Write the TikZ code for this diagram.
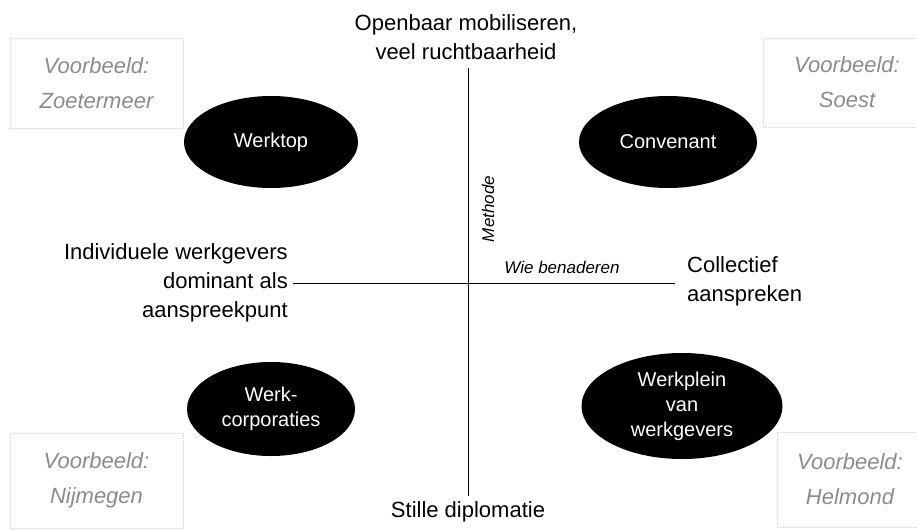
\documentclass[tikz,border=0pt]{standalone}
\usepackage{fontspec}
\setmainfont{Liberation Sans}
\usetikzlibrary{shapes}
\definecolor{voorbeeldgrey}{RGB}{138,138,150}

\begin{document}
\begin{tikzpicture}[x=1pt, y=-1pt, inner sep=0pt,
        every ellipse node/.append style={fill=black, text=white}]
      \tikzstyle{axislabel} = [font=\fontsize{22}{29}\selectfont]
      \tikzstyle{kwadrant} = [ellipse, font=\fontsize{20}{25}\selectfont, align=center]
      \tikzstyle{voorbeeld} = [draw=gray!30, densely dotted, line width=0.6pt,
        font=\fontsize{22}{35}\selectfont\itshape, text=voorbeeldgrey, align=center]
      \tikzstyle{as} = [font=\fontsize{17}{20}\selectfont\itshape]
      \clip (0,0) rectangle (917,530);
      % assen
      \node (Openbaar) [axislabel, align=center] at (466,37) {Openbaar mobiliseren,\\veel ruchtbaarheid};
      \node (Stille) [axislabel] at (468,512) {Stille diplomatie};
      \node (Individueel) [axislabel, align=right, anchor=east] at (288,283)
        {Individuele werkgevers\\dominant als\\aanspreekpunt};
      \node (Collectief) [axislabel, align=left, anchor=west] at (687,281) {Collectief\\aanspreken};
      \coordinate (MethodeBoven) at (468,68);
      \coordinate (MethodeOnder) at (468,496);
      \coordinate (WieEinde) at (675,283);
      \draw[line width=0.9pt] (MethodeBoven) -- (MethodeOnder);
      \draw[line width=0.9pt] ([xshift=5pt]Individueel.east) -- (WieEinde);
      \node (Methode) [as, rotate=90] at (488,209) {Methode};
      \node (Wie) [as] at (562,267) {Wie benaderen};
      % kwadranten
      \node (Werktop) [kwadrant, minimum width=174, minimum height=92] at (271,142) {Werktop};
      \node (Convenant) [kwadrant, minimum width=178, minimum height=92] at (668,142) {Convenant};
      \node (Werkcorporaties) [kwadrant, minimum width=168, minimum height=94] at (271,409) {Werk-\\corporaties};
      \node (Werkplein) [kwadrant, minimum width=201, minimum height=106] at (682,406)
        {Werkplein\\van\\werkgevers};
      % voorbeelden
      \node (Zoetermeer) [voorbeeld, minimum width=173, minimum height=90] at (96.5,83) {Voorbeeld:\\Zoetermeer};
      \node (Soest) [voorbeeld, minimum width=168, minimum height=89] at (847,82.5) {Voorbeeld:\\Soest};
      \node (Nijmegen) [voorbeeld, minimum width=173, minimum height=95] at (96.5,480.5) {Voorbeeld:\\Nijmegen};
      \node (Helmond) [voorbeeld, minimum width=146, minimum height=95] at (850,479.5) {Voorbeeld:\\Helmond};
    \end{tikzpicture}
\end{document}
